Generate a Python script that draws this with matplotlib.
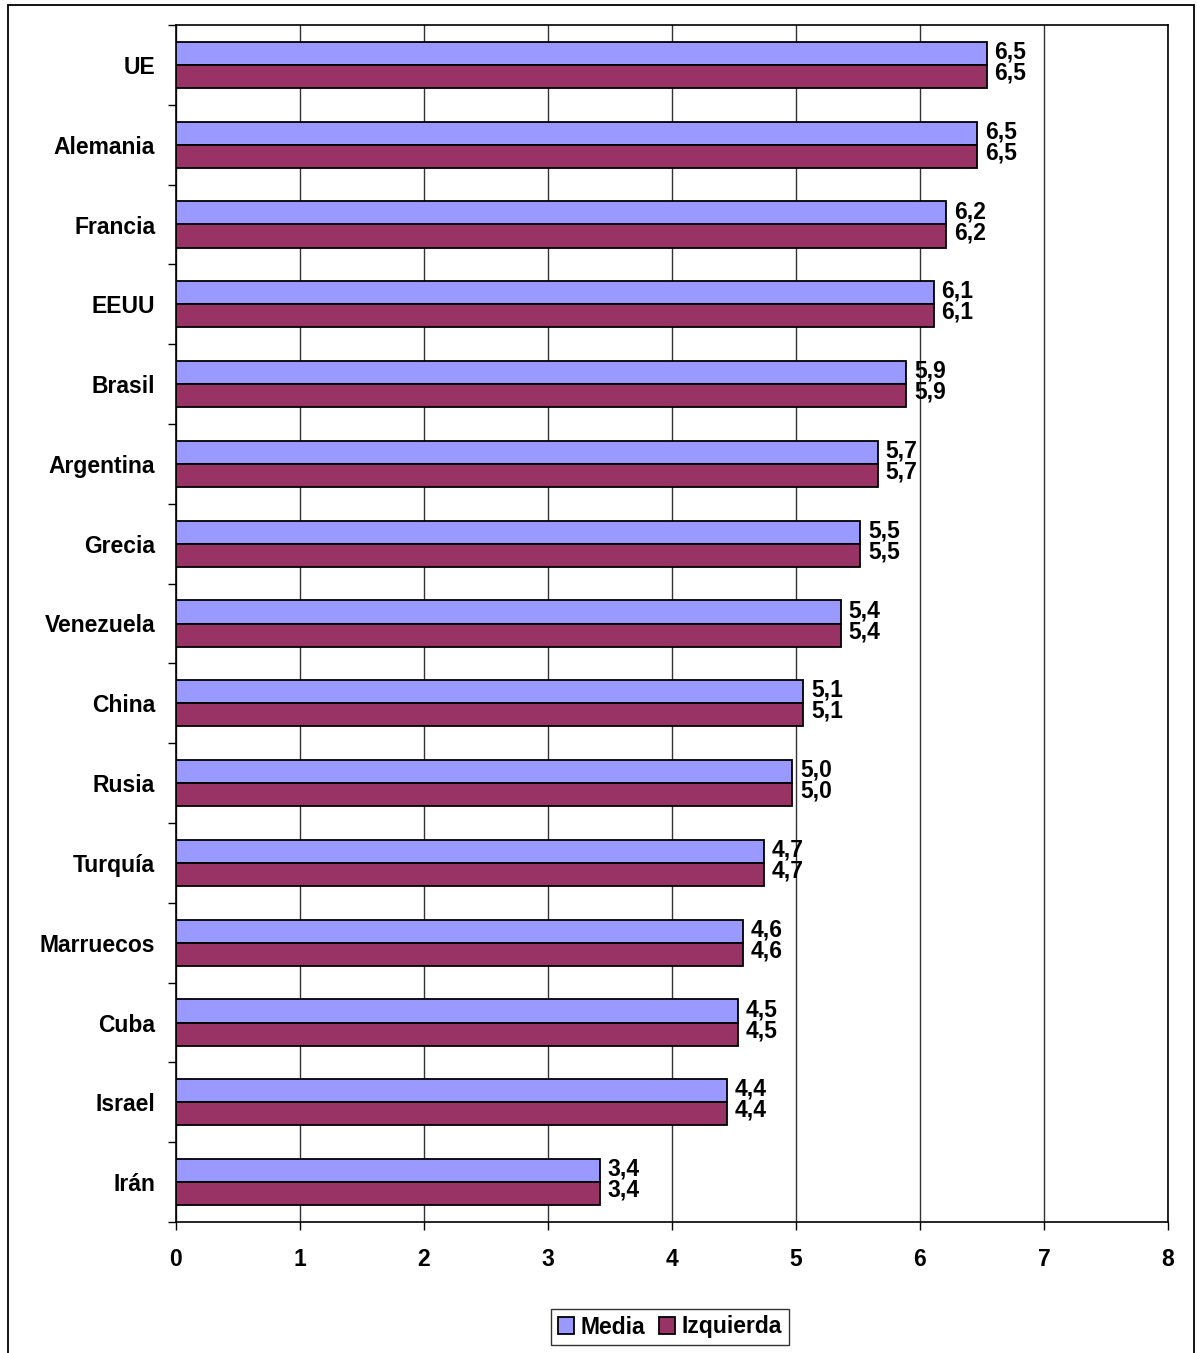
import matplotlib.pyplot as plt
import matplotlib.patches as patches

# --- Data ---
countries = ["UE", "Alemania", "Francia", "EEUU", "Brasil", "Argentina", "Grecia",
             "Venezuela", "China", "Rusia", "Turquía", "Marruecos", "Cuba", "Israel", "Irán"]
media = [6.54, 6.46, 6.21, 6.11, 5.89, 5.66, 5.52, 5.36, 5.06, 4.97, 4.74, 4.57, 4.53, 4.44, 3.42]
izquierda = [6.54, 6.46, 6.21, 6.11, 5.89, 5.66, 5.52, 5.36, 5.06, 4.97, 4.74, 4.57, 4.53, 4.44, 3.42]
series_names = ["Media", "Izquierda"]
x_ticks = [0, 1, 2, 3, 4, 5, 6, 7, 8]

plt.rcParams['font.family'] = ['Liberation Sans', 'DejaVu Sans']
plt.rcParams['font.weight'] = 'bold'

FS = 16.5

fig = plt.figure(figsize=(11.97, 13.53), dpi=100)
ax = fig.add_axes([176 / 1197, 1 - 1222 / 1353, (1168 - 176) / 1197, (1222 - 25) / 1353])

n = len(countries)
h = 0.29
ys = [n - 1 - i for i in range(n)]
y_media = [y + h / 2 for y in ys]
y_izq = [y - h / 2 for y in ys]

ax.barh(y_media, media, height=h, color="#9999FF", edgecolor="black", linewidth=1.3,
        label=series_names[0], zorder=3)
ax.barh(y_izq, izquierda, height=h, color="#993366", edgecolor="black", linewidth=1.3,
        label=series_names[1], zorder=3)

for y, v in zip(y_media, media):
    ax.annotate(f"{v:.1f}".replace(".", ","), (v, y), xytext=(5.5, 1), textcoords="offset points",
                ha="left", va="center", fontsize=FS, fontweight="bold")
for y, v in zip(y_izq, izquierda):
    ax.annotate(f"{v:.1f}".replace(".", ","), (v, y), xytext=(5.5, 2.5), textcoords="offset points",
                ha="left", va="center", fontsize=FS, fontweight="bold")

ax.set_xlim(0, 8)
ax.set_ylim(-0.5, n - 0.5)
ax.set_xticks(x_ticks)
ax.set_xticklabels([str(t) for t in x_ticks], fontsize=FS, fontweight="bold")
ax.tick_params(axis="x", length=6, width=1, pad=13)

# category labels centred, tick marks on boundaries
ax.set_yticks(ys)
ax.set_yticklabels(countries, fontsize=FS, fontweight="bold")
ax.tick_params(axis="y", length=0, pad=15)
ax.set_yticks([y + 0.5 for y in range(-1, n)], minor=True)
ax.tick_params(axis="y", which="minor", length=6, width=1)

ax.grid(axis="x", color="#333333", linewidth=1, zorder=0)
for s in ax.spines.values():
    s.set_linewidth(1.2)
    s.set_color("black")

leg = ax.legend(loc="center", bbox_to_anchor=(670 / 1197, 1 - 1327 / 1353),
                bbox_transform=fig.transFigure, ncol=2, frameon=True, fancybox=False,
                edgecolor="black", fontsize=FS, handlelength=0.7, handleheight=0.7,
                handletextpad=0.3, columnspacing=0.6, borderpad=0.3, borderaxespad=0)
leg.get_frame().set_linewidth(1)

# outer frame of the chart
frame = patches.Rectangle((8 / 1197, -0.05), (1194 - 8) / 1197, 1 - 5 / 1353 + 0.05,
                          transform=fig.transFigure, fill=False, edgecolor="black",
                          linewidth=1.3, clip_on=False)
fig.patches.append(frame)

fig.savefig("out.png", dpi=100)
